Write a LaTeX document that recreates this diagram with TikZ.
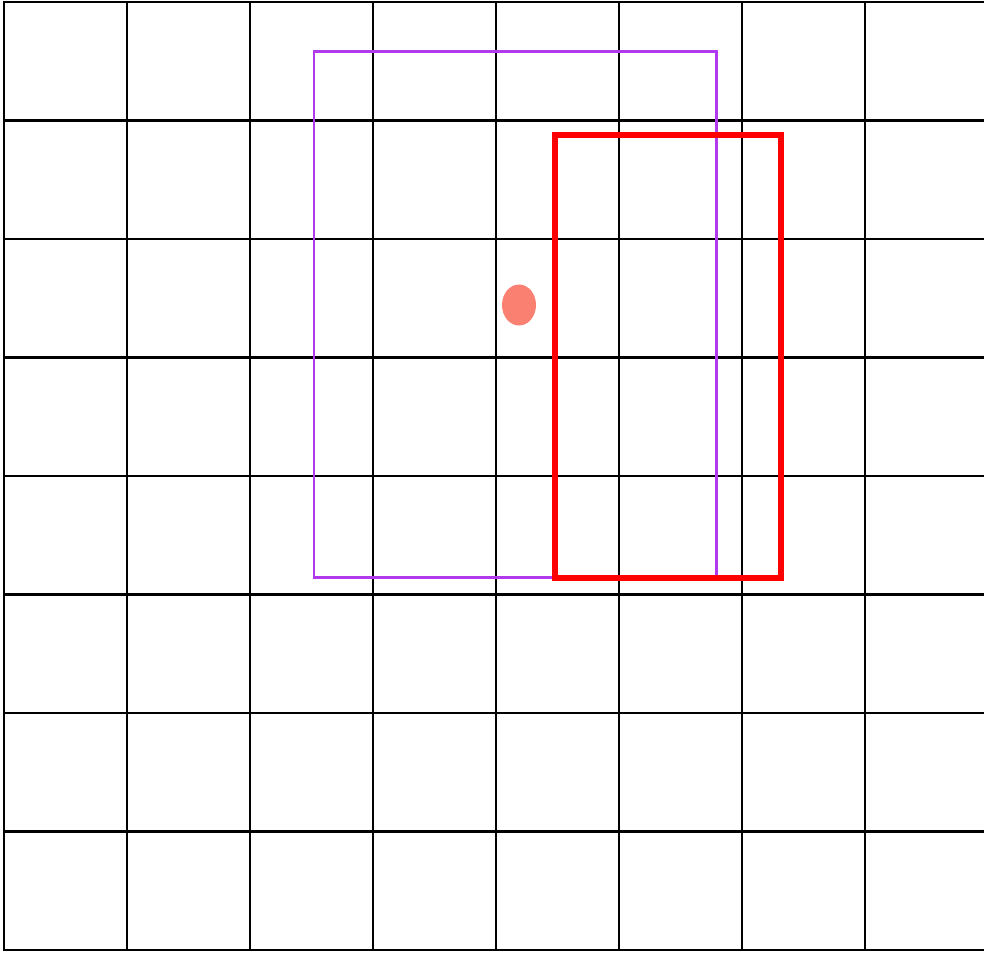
\documentclass[tikz,border=0pt]{standalone}
\definecolor{gridblack}{RGB}{0,0,0}
\definecolor{boxpurple}{RGB}{178,58,238}
\definecolor{boxred}{RGB}{255,0,0}
\definecolor{dotsalmon}{RGB}{250,128,114}
\tikzset{
  gridline/.style={draw=gridblack, line width=2.3pt},
  purplebox/.style={draw=boxpurple, line width=2.2pt},
  redbox/.style={draw=boxred, line width=6pt},
  salmondot/.style={fill=dotsalmon, draw=none}
}
\begin{document}
\begin{tikzpicture}[x=1pt,y=-1pt]
  \useasboundingbox (0,0) rectangle (984,952);
  \fill[white] (0,0) rectangle (984,952);
  \begin{scope}
    \clip (0,0) rectangle (984,952);
    \foreach \k in {0,...,8} {
      \draw[gridline] (4+123*\k,2) -- (4+123*\k,950.5);
    }
    \foreach \k in {0,...,8} {
      \draw[gridline] (3,2+118.5*\k) -- (990,2+118.5*\k);
    }
  \end{scope}
  \draw[purplebox] (314,51.5) rectangle (716.5,577.5);
  \draw[redbox] (555,135) rectangle (780.5,578);
  \fill[salmondot] (519,305) ellipse [x radius=17, y radius=20.5];
\end{tikzpicture}
\end{document}
